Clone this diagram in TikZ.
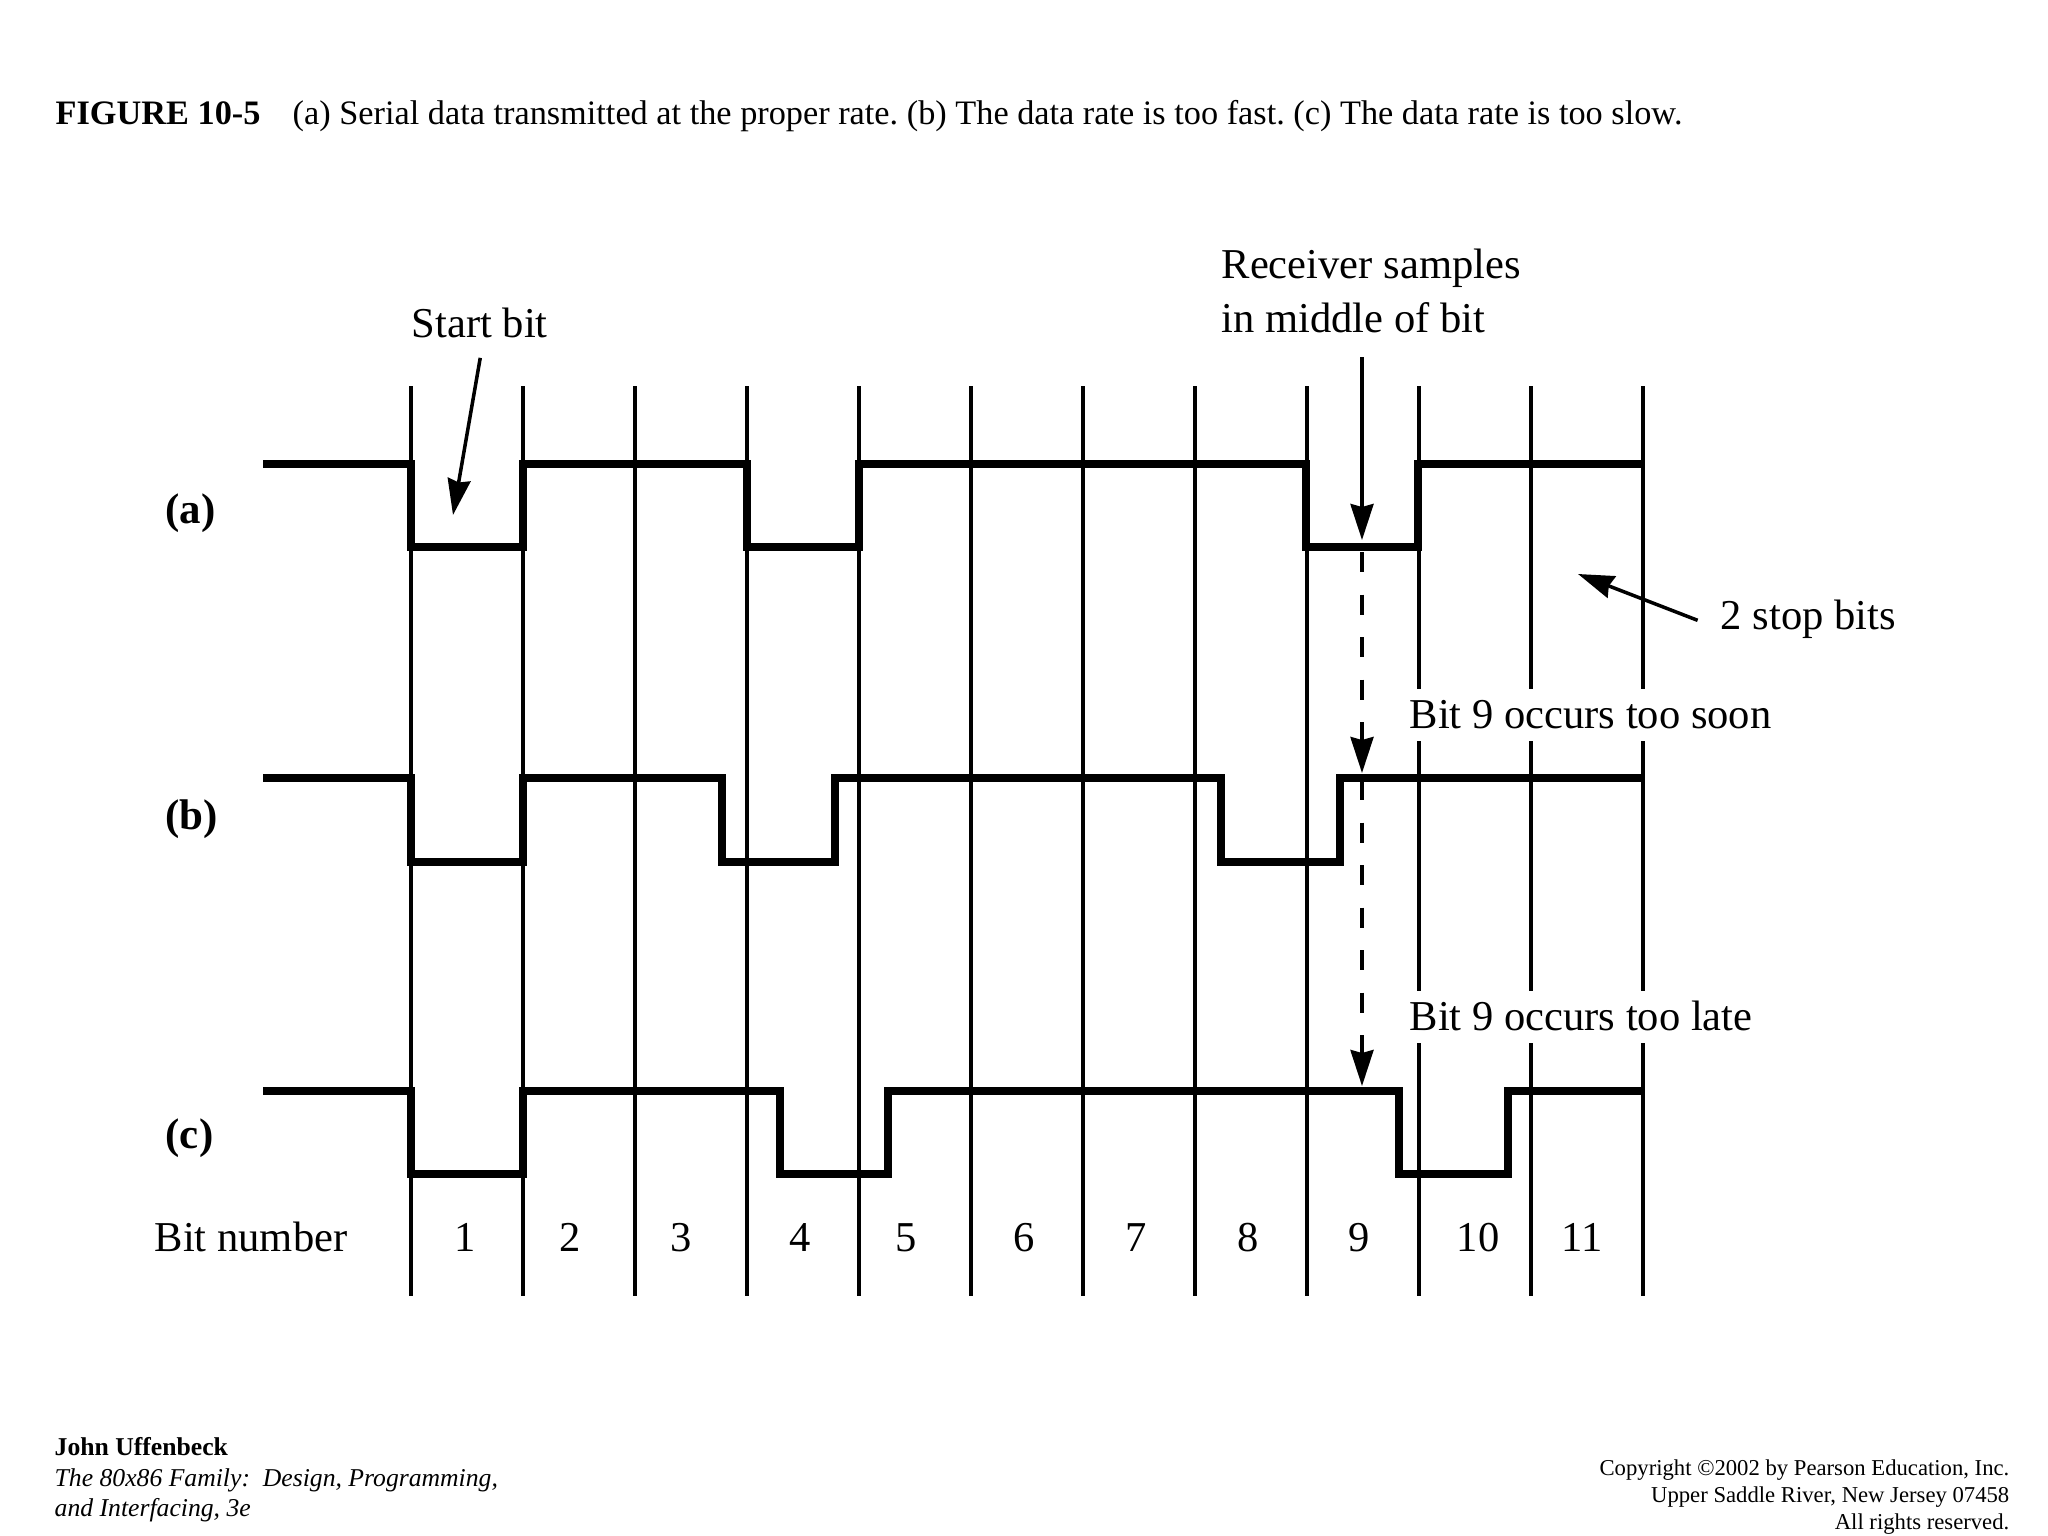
\documentclass[tikz,border=0pt]{standalone}
\usepackage{fontspec}
\setmainfont{Liberation Serif}
\frenchspacing
\usetikzlibrary{arrows.meta, calc}
\tikzset{
  gridline/.style={line width=0.9pt},
  signal/.style={line width=2.2pt, line join=miter},
  pointer/.style={line width=1pt, -{Stealth[length=0.36cm, width=0.23cm, inset=0.03cm]}},
  sampled/.style={pointer, dash pattern=on 0.2cm off 0.225cm},
  label/.style={anchor=base west, inner sep=0pt, font=\fontsize{12.1pt}{14pt}\selectfont},
  cutlabel/.style={label, fill=white, text height=0.39cm, text depth=0.13cm},
  bitnum/.style={anchor=base, inner sep=0pt, font=\fontsize{12.1pt}{14pt}\selectfont},
  rowname/.style={anchor=base west, inner sep=0pt, font=\fontsize{12.2pt}{14pt}\selectfont\bfseries},
  caption/.style={anchor=base west, inner sep=0pt, font=\fontsize{9.75pt}{12pt}\selectfont},
  credit/.style={anchor=base west, inner sep=0pt, font=\fontsize{7.3pt}{9pt}\selectfont},
  rights/.style={anchor=base east, inner sep=0pt, font=\fontsize{6.45pt}{8pt}\selectfont}
}

\begin{document}
\begin{tikzpicture}[x=0.01cm, y=-0.01cm]
\useasboundingbox (0,0) rectangle (2048,1536);

\node[caption] (figno) at (55,124) {\textbf{FIGURE 10-5}};
\node[caption] (figtext) at (292,124) {(a) Serial data transmitted at the proper rate. (b) The data rate is too fast. (c) The data rate is too slow.};

\foreach \i in {0,...,11}
  \draw[gridline] ({411+112*\i},386) -- ({411+112*\i},1296);

\draw[signal] (263,464) -| (411,547) -| (523,464) -| (747,547) -| (859,464) -| (1306,547) -| (1418,464) -- (1642,464);
\draw[signal] (263,778) -| (411,862) -| (523,778) -| (722,862) -| (835,778) -| (1221,862) -| (1340,778) -- (1642,778);
\draw[signal] (263,1091) -| (411,1174) -| (523,1091) -| (780,1174) -| (888,1091) -| (1399,1174) -| (1508,1091) -- (1642,1091);

\node[rowname] (rowa) at (165,523) {(a)};
\node[rowname] (rowb) at (165,829) {(b)};
\node[rowname] (rowc) at (165,1148) {(c)};

\node[label] (bitname) at (154,1251) {Bit number};
\foreach \x/\n in {465/1, 570/2, 681/3, 800/4, 906/5, 1024/6, 1136/7, 1248/8, 1359/9, 1478/10, 1582/11}
  \node[bitnum] (bit\n) at (\x,1251) {\n};

\node[label] (startbit) at (411,337) {Start bit};
\coordinate (starttip) at (453,515);
\draw[pointer, shorten <=0.2cm] ([xshift=0.04cm]startbit.south) -- (starttip);

\node[label] (stopbits) at (1720,629) {2 stop bits};
\coordinate (stoptip) at (1578,574);
\draw[pointer, shorten <=0.24cm] (stopbits.base west) -- (stoptip);

\node[label] (recvtop) at (1221,278) {Receiver samples};
\node[label] (recvbot) at (1221,332) {in middle of bit};
\coordinate (sampletip) at (1362,540);
\coordinate (sampleb) at (1362,552);
\coordinate (tipb) at (1362,773);
\coordinate (samplec) at (1362,780);
\coordinate (tipc) at (1362,1086);
\draw[pointer, shorten <=0.24cm] (recvbot.south -| sampletip) -- (sampletip);
\draw[sampled] (sampleb) -- (tipb);
\draw[sampled] (samplec) -- (tipc);

\node[cutlabel] (soon) at (1409,728) {Bit 9 occurs too soon};
\node[cutlabel] (late) at (1409,1030) {Bit 9 occurs too late};

\node[credit] (author) at (54,1455) {\textbf{John Uffenbeck}};
\node[credit] (book) at (54,1486) {\textit{The 80x86 Family:\ \ Design, Programming,}};
\node[credit] (bookb) at (54,1516) {\textit{and Interfacing, 3e}};
\node[rights] (copy) at (2010,1475) {Copyright ©2002 by Pearson Education, Inc.};
\node[rights] (place) at (2010,1502) {Upper Saddle River, New Jersey 07458};
\node[rights] (reserved) at (2010,1529) {All rights reserved.};
\end{tikzpicture}
\end{document}
